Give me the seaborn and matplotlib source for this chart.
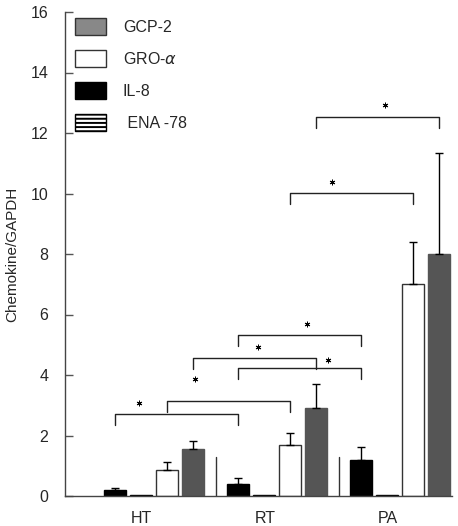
import numpy as np
import pandas as pd
import matplotlib
matplotlib.use("Agg")
import matplotlib.pyplot as plt
import seaborn as sns
from matplotlib.patches import Patch


groups = ["HT", "RT", "PA"]
chemokines = ["IL-8", "ENA -78", "GRO-$\\alpha$", "GCP-2"]

il8 = [0.20, 0.41, 1.18]
il8_err = [0.07, 0.20, 0.44]
ena78 = [0.02, 0.02, 0.02]
ena78_err = [0.0, 0.0, 0.0]
gro_a = [0.86, 1.69, 7.00]
gro_a_err = [0.27, 0.38, 1.40]
gcp2 = [1.56, 2.90, 8.00]
gcp2_err = [0.27, 0.80, 3.35]

y_ticks = [0, 2, 4, 6, 8, 10, 12, 14, 16]

# significance brackets: (group, chemokine) -> (group, chemokine), bracket height
brackets = [
    ("HT", "IL-8", "RT", "IL-8", 2.71),
    ("HT", "GRO-$\\alpha$", "RT", "GRO-$\\alpha$", 3.15),
    ("RT", "IL-8", "PA", "IL-8", 4.23),
    ("HT", "GCP-2", "RT", "GCP-2", 4.57),
    ("RT", "IL-8", "PA", "IL-8", 5.32),
    ("RT", "GRO-$\\alpha$", "PA", "GRO-$\\alpha$", 10.02),
    ("RT", "GCP-2", "PA", "GCP-2", 12.54),
]
# where the star sits along each bracket and how far above it
star_frac = [0.19, 0.23, 0.73, 0.53, 0.56, 0.34, 0.56]
star_lift = [0.36, 0.73, 0.26, 0.36, 0.36, 0.36, 0.40]


values = [il8, ena78, gro_a, gcp2]
errors = [il8_err, ena78_err, gro_a_err, gcp2_err]

rows = []
for chem, vals in zip(chemokines, values):
    for g, v in zip(groups, vals):
        rows.append({"group": g, "chemokine": chem, "value": v})
df = pd.DataFrame(rows)

sns.set_style("white")
plt.rcParams["font.family"] = ["Liberation Sans", "DejaVu Sans"]
plt.rcParams["hatch.linewidth"] = 1.4
plt.rcParams["mathtext.fontset"] = "dejavusans"

palette = {"IL-8": "black", "ENA -78": "white", "GRO-$\\alpha$": "white", "GCP-2": "#555555"}
edges = {"IL-8": "black", "ENA -78": "black", "GRO-$\\alpha$": "#333333", "GCP-2": "#555555"}

fig = plt.figure(figsize=(4.58, 5.26), dpi=100)
ax = fig.add_axes([65 / 458, 30 / 526, 387 / 458, 484 / 526])

sns.barplot(data=df, x="group", y="value", hue="chemokine", order=groups,
            hue_order=chemokines, palette=palette, width=0.845, gap=0.15,
            linewidth=1, errorbar=None, legend=False, ax=ax)

centers = {}
for chem, cont in zip(chemokines, ax.containers):
    for g, bar in zip(groups, cont):
        bar.set_edgecolor(edges[chem])
        if chem == "ENA -78":
            bar.set_hatch("----")
        centers[(g, chem)] = bar.get_x() + bar.get_width() / 2

# one-sided error bars
for chem, vals, errs in zip(chemokines, values, errors):
    if max(errs) == 0:
        continue
    xs = [centers[(g, chem)] for g in groups]
    ax.errorbar(xs, vals, yerr=[np.zeros(len(errs)), errs], fmt="none",
                ecolor="black", elinewidth=1, capsize=3.2, capthick=1, zorder=3)

# thin divider lines between groups
for g1, g2 in zip(groups[:-1], groups[1:]):
    xm = (centers[(g1, "GCP-2")] + centers[(g2, "IL-8")]) / 2
    ax.plot([xm, xm], [0, 1.3], color="#333333", lw=1)

# brackets with stars
for (g1, c1, g2, c2, h), f, lift in zip(brackets, star_frac, star_lift):
    x1, x2 = centers[(g1, c1)], centers[(g2, c2)]
    ax.plot([x1, x1, x2, x2], [h - 0.36, h, h, h - 0.36], color="#222222", lw=1)
    ax.plot(x1 + f * (x2 - x1), h + lift, marker=(6, 2, 0), ms=4,
            mec="black", mew=0.7, ls="none")

ax.set_ylim(0, 16)
ax.set_xlim(-0.724, 2.42)
ax.set_yticks(y_ticks)
ax.set_xticks([i - 0.1 for i in range(len(groups))], groups)
ax.set_ylabel("Chemokine/GAPDH", fontsize=11, labelpad=8)
ax.set_xlabel("")
ax.tick_params(axis="y", direction="in", length=5.8, width=1, color="#555555",
               labelsize=11.5, pad=12, left=True)
ax.tick_params(axis="x", length=0, labelsize=11.5, pad=10.5)
sns.despine(ax=ax)
for side in ["left", "bottom"]:
    ax.spines[side].set_color("#444444")
    ax.spines[side].set_linewidth(1)

handles = [
    Patch(facecolor="#888888", edgecolor="#333333", label="GCP-2"),
    Patch(facecolor="white", edgecolor="#333333", label="GRO-$\\alpha$"),
    Patch(facecolor="black", edgecolor="black", label="IL-8"),
    Patch(facecolor="white", edgecolor="black", hatch="----", label=" ENA -78"),
]
ax.legend(handles=handles, loc="upper left", bbox_to_anchor=(75 / 458, 1 - 18 / 526),
          bbox_transform=fig.transFigure, frameon=False, fontsize=11.5,
          borderpad=0, borderaxespad=0, handlelength=1.94, handleheight=1.25,
          labelspacing=0.95, handletextpad=1.06)

fig.savefig("out.png", dpi=100)
